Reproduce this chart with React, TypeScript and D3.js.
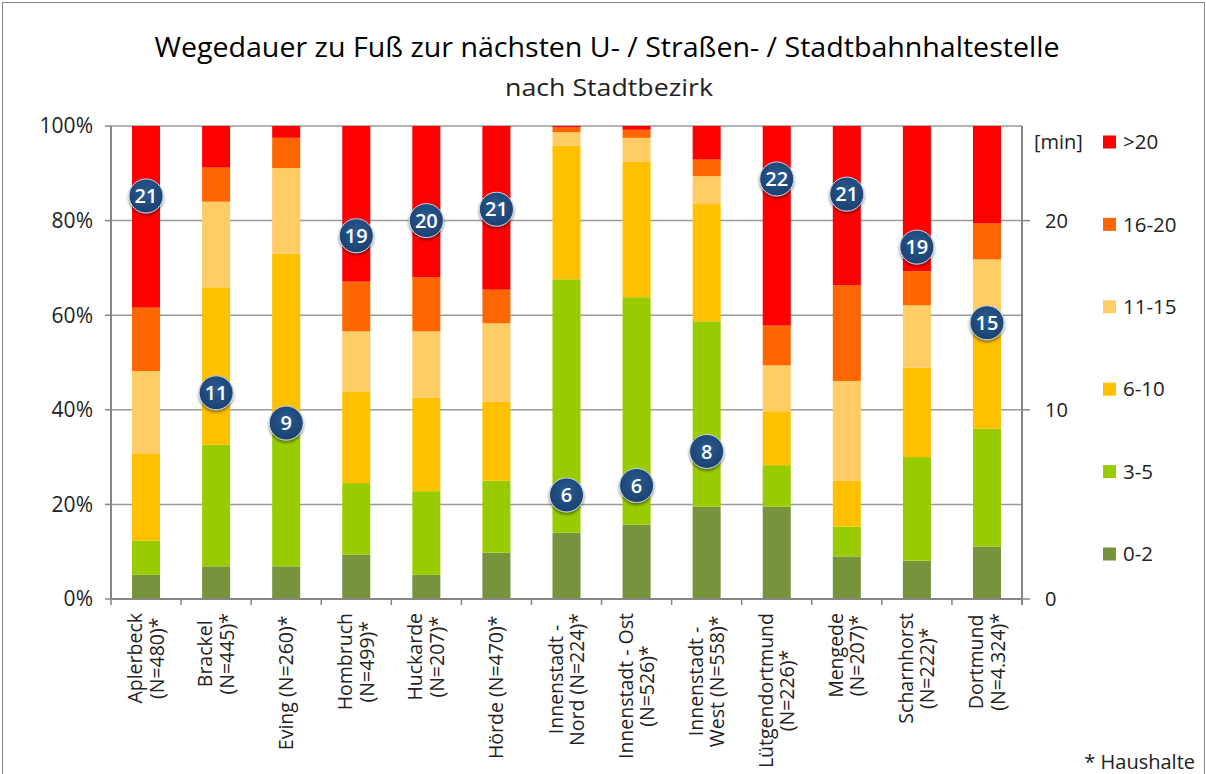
import React from "react";
import * as d3 from "d3";

// districts (two label lines each, second may be empty)
const labelLine1 = [
  "Aplerbeck", "Brackel", "Eving  (N=260)*", "Hombruch", "Huckarde", "Hörde  (N=470)*",
  "Innenstadt -", "Innenstadt - Ost", "Innenstadt -", "Lütgendortmund", "Mengede", "Scharnhorst", "Dortmund",
];
const labelLine2 = [
  "(N=480)*", "(N=445)*", "", "(N=499)*", "(N=207)*", "",
  "Nord (N=224)*", "(N=526)*", "West  (N=558)*", "(N=226)*", "(N=207)*", "(N=222)*", "(N=4.324)*",
];

// shares in % per walking-time class
const min0to2 = [5.1, 6.9, 6.9, 9.4, 5.1, 9.8, 14.0, 15.7, 19.5, 19.5, 9.0, 8.1, 11.1];
const min3to5 = [7.2, 25.7, 28.1, 15.1, 17.7, 15.2, 53.6, 48.1, 39.2, 8.8, 6.3, 21.9, 24.9];
const min6to10 = [18.5, 33.3, 38.0, 19.4, 19.8, 16.7, 28.2, 28.6, 24.8, 11.4, 9.7, 18.9, 24.0];
const min11to15 = [17.4, 18.1, 18.1, 12.7, 14.0, 16.6, 2.9, 5.1, 5.9, 9.7, 21.1, 13.2, 11.8];
const min16to20 = [13.4, 7.2, 6.4, 10.5, 11.4, 7.1, 1.0, 1.7, 3.5, 8.4, 20.2, 7.2, 7.6];
const minOver20 = [38.4, 8.8, 2.5, 32.9, 32.0, 34.6, 0.3, 0.8, 7.1, 42.2, 33.7, 30.7, 20.6];

// average walking time in minutes (right axis)
const avgMinutes = [21.3, 10.9, 9.3, 19.2, 20.0, 20.6, 5.5, 6.0, 7.8, 22.2, 21.4, 18.6, 14.6];

const classNames = ["0-2", "3-5", "6-10", "11-15", "16-20", ">20"];
const classColors = ["#77933C", "#99CC00", "#FFC000", "#FFCC66", "#FF6600", "#FF0000"];
const pctTicks = [0, 20, 40, 60, 80, 100];
const minTicks = [0, 10, 20];

const W = 1206;
const H = 774;
const FONT = "'Open Sans', 'Noto Sans', sans-serif";
const LABEL_SIZE = 19.5;

let ctx: CanvasRenderingContext2D | null = null;
function textWidth(s: string, size: number) {
  if (!ctx) ctx = document.createElement("canvas").getContext("2d");
  if (!ctx) return s.length * size * 0.55;
  ctx.font = `${size}px 'Open Sans'`;
  return ctx.measureText(s).width;
}

export default function App() {
  const seriesData = [min0to2, min3to5, min6to10, min11to15, min16to20, minOver20];
  const cats = labelLine1.map((_, i) => String(i));
  const rows = cats.map((c, i) => {
    const r: any = { cat: c };
    classNames.forEach((k, j) => (r[k] = seriesData[j][i]));
    return r;
  });
  const stacked = d3.stack().keys(classNames)(rows);

  const x0 = 111, x1 = 1022, yTop = 126, yBot = 599;
  const x = d3.scaleBand().domain(cats).range([x0, x1]).paddingInner(0.6).paddingOuter(0.3);
  const slot = d3.scaleBand().domain(cats).range([x0, x1]);
  const y = d3.scaleLinear().domain([0, 100]).range([yBot, yTop]);
  const yMin = d3.scaleLinear().domain([0, 25]).range([yBot, yTop]);
  const axisColor = "#868686";

  return (
    <svg width={W} height={H} style={{ position: "absolute", left: 0, top: 0, background: "#fff" }} fontFamily={FONT} xmlSpace="preserve">
      <defs>
        <filter id="shadow" x="-50%" y="-50%" width="200%" height="200%">
          <feDropShadow dx="0" dy="2" stdDeviation="1.5" floodColor="#000" floodOpacity="0.45" />
        </filter>
        <radialGradient id="dot" cx="50%" cy="40%" r="60%">
          <stop offset="0%" stopColor="#2a5a92" />
          <stop offset="100%" stopColor="#1b416f" />
        </radialGradient>
      </defs>
      <rect x={2.5} y={2.5} width={W - 4} height={H} fill="none" stroke="#8a8a8a" strokeWidth={1} />

      <text x={607} y={57} textAnchor="middle" fontSize={27} textLength={905} lengthAdjust="spacingAndGlyphs" fill="#000">
        Wegedauer zu Fuß zur nächsten U- / Straßen- / Stadtbahnhaltestelle
      </text>
      <text x={609} y={96} textAnchor="middle" fontSize={23} textLength={208} lengthAdjust="spacingAndGlyphs" fill="#222">
        nach  Stadtbezirk
      </text>

      {/* gridlines */}
      {pctTicks.map((t) => (
        <g key={t}>
          <line x1={x0} x2={x1} y1={y(t)} y2={y(t)} stroke="#9a9a9a" strokeWidth={1.5} />
          <line x1={x0 - 6} x2={x0} y1={y(t)} y2={y(t)} stroke={axisColor} strokeWidth={1.5} />
          <text x={93} y={y(t)} dy="0.35em" textAnchor="end" fontSize={21} fill="#222">{t}%</text>
        </g>
      ))}

      {/* bars */}
      {stacked.map((s, j) => (
        <g key={s.key} fill={classColors[j]}>
          {s.map((d, i) => (
            <rect key={i} x={x(cats[i])} width={x.bandwidth()} y={y(d[1])} height={y(d[0]) - y(d[1])} />
          ))}
        </g>
      ))}

      {/* axes */}
      <line x1={x0} x2={x0} y1={yTop} y2={yBot} stroke={axisColor} strokeWidth={2} />
      <line x1={x1} x2={x1} y1={yTop} y2={yBot + 6} stroke={axisColor} strokeWidth={2} />
      <line x1={x0} x2={x1} y1={yBot} y2={yBot} stroke={axisColor} strokeWidth={2} />
      {cats.map((c) => (
        <line key={c} x1={slot(c)} x2={slot(c)} y1={yBot} y2={yBot + 6} stroke={axisColor} strokeWidth={1.5} />
      ))}
      {minTicks.map((t) => (
        <g key={t}>
          <line x1={x1} x2={x1 + 8} y1={yMin(t)} y2={yMin(t)} stroke={axisColor} strokeWidth={1.5} />
          <text x={1045} y={yMin(t)} dy="0.35em" fontSize={20} fill="#222">{t}</text>
        </g>
      ))}
      <text x={1034} y={142} dy="0.35em" fontSize={20} fill="#222">[min]</text>

      {/* category labels: block anchored below the axis, lines centred in the block */}
      {cats.map((c, i) => {
        const cx = slot(c)! + slot.bandwidth() / 2;
        const lines = [labelLine1[i], labelLine2[i]].filter((l) => l);
        const blockLen = d3.max(lines, (l) => textWidth(l, LABEL_SIZE))!;
        const gap = 21.5;
        return (
          <g key={c} transform={`translate(${cx},${613 + blockLen / 2}) rotate(-90)`}>
            {lines.map((l, k) => (
              <text key={k} x={0} y={(k - (lines.length - 1) / 2) * gap} dy="0.35em" textAnchor="middle" fontSize={LABEL_SIZE} fill="#222">
                {l}
              </text>
            ))}
          </g>
        );
      })}

      {/* average markers */}
      {avgMinutes.map((v, i) => {
        const cx = x(cats[i])! + x.bandwidth() / 2;
        const cy = yMin(v);
        return (
          <g key={i}>
            <circle cx={cx} cy={cy} r={17} fill="url(#dot)" stroke="#c9d6e8" strokeWidth={1} filter="url(#shadow)" />
            <text x={cx} y={cy} dy="0.36em" textAnchor="middle" fontSize={20} fontWeight={600} fill="#fff">
              {Math.round(v)}
            </text>
          </g>
        );
      })}

      {/* legend */}
      {classNames.slice().reverse().map((k, j) => {
        const idx = classNames.length - 1 - j;
        const ly = 142 + j * 82.4;
        return (
          <g key={k}>
            <rect x={1103} y={ly - 6.5} width={13} height={13} fill={classColors[idx]} />
            <text x={1123} y={ly} dy="0.35em" fontSize={20.5} fill="#222">{k}</text>
          </g>
        );
      })}

      <text x={1195} y={762} dy="0.35em" textAnchor="end" fontSize={20} fill="#222">*  Haushalte</text>
    </svg>
  );
}
